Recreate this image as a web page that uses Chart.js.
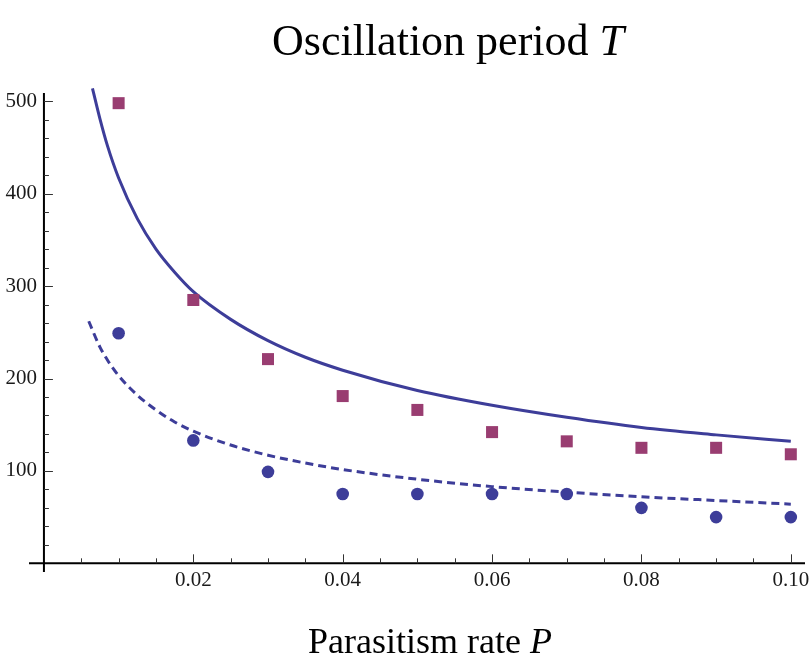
<!DOCTYPE html>
<html>
<head>
<meta charset="utf-8">
<script src="https://cdn.jsdelivr.net/npm/chart.js@4.4.0/dist/chart.umd.min.js"></script>
<style>
  html, body { margin: 0; padding: 0; background: #fff; }
  #wrap { width: 811px; height: 662px; }
</style>
</head>
<body>
<div id="wrap"><canvas id="chart" width="811" height="662"></canvas></div>
<script>
const rates = [0.01, 0.02, 0.03, 0.04, 0.05, 0.06, 0.07, 0.08, 0.09, 0.10];
const squareT = [498, 285, 221, 181, 166, 142, 132, 125, 125, 118];
const circleT = [249, 133, 99, 75, 75, 75, 75, 60, 50, 50];

// 이론 곡선 (그림에서 읽은 점)
const solidP = [0.0065, 0.0075, 0.0085, 0.01, 0.0125, 0.015, 0.0175, 0.02, 0.025, 0.03, 0.035, 0.04, 0.05, 0.06, 0.07, 0.08, 0.09, 0.10];
const solidT = [514, 481, 452, 417, 373, 340, 315, 294, 264, 241, 223, 209, 187, 171, 158, 147, 139, 132];
const dashedP = [0.006, 0.0075, 0.0085, 0.01, 0.0125, 0.015, 0.0175, 0.02, 0.025, 0.03, 0.035, 0.04, 0.05, 0.06, 0.07, 0.08, 0.09, 0.10];
const dashedT = [262, 234, 220, 203, 182, 166, 153, 143, 128, 117, 108.5, 101.5, 91, 83, 77, 72, 68, 64];

// 눈금
const xMajor = [0.02, 0.04, 0.06, 0.08, 0.10];
const xTickLabels = ['0.02', '0.04', '0.06', '0.08', '0.10'];
const yMajor = [100, 200, 300, 400, 500];
const yTickLabels = ['100', '200', '300', '400', '500'];

const blue = '#3d3d99';
const purple = '#993d71';
const serif = '"Liberation Serif", "DejaVu Serif", serif';

const toXY = (xs, ys) => xs.map((x, i) => ({ x: x, y: ys[i] }));

// 축을 원점에 그리는 플러그인
const axesPlugin = {
    id: 'originAxes',
    afterDatasetsDraw(chart) {
        const ctx = chart.ctx;
        const xs = chart.scales.x, ys = chart.scales.y;
        const area = chart.chartArea;
        const x0 = xs.getPixelForValue(0);
        const y0 = ys.getPixelForValue(0);
        ctx.save();
        ctx.strokeStyle = '#000';
        ctx.lineWidth = 2;
        ctx.beginPath();
        ctx.moveTo(area.left, y0); ctx.lineTo(area.right, y0);
        ctx.moveTo(x0, area.top); ctx.lineTo(x0, area.bottom);
        ctx.stroke();

        // y 눈금
        ctx.lineWidth = 1;
        ctx.strokeStyle = '#333';
        for (let v = 20; v <= 500; v += 20) {
            const py = Math.round(ys.getPixelForValue(v)) + 0.5;
            const len = v % 100 === 0 ? 9 : 5;
            ctx.beginPath(); ctx.moveTo(x0, py); ctx.lineTo(x0 + len, py); ctx.stroke();
        }
        // x 눈금
        for (let i = 1; i <= 20; i++) {
            const v = i * 0.005;
            const px = Math.round(xs.getPixelForValue(v)) + 0.5;
            const len = i % 4 === 0 ? 9 : 5;
            ctx.beginPath(); ctx.moveTo(px, y0); ctx.lineTo(px, y0 - len); ctx.stroke();
        }

        ctx.fillStyle = '#1a1a1a';
        ctx.font = '21px ' + serif;
        ctx.textAlign = 'right';
        ctx.textBaseline = 'middle';
        yMajor.forEach((v, i) => ctx.fillText(yTickLabels[i], x0 - 7, ys.getPixelForValue(v)));
        ctx.textAlign = 'center';
        ctx.textBaseline = 'alphabetic';
        xMajor.forEach((v, i) => ctx.fillText(xTickLabels[i], xs.getPixelForValue(v), y0 + 23));

        // 제목과 축 이름
        drawMixed(ctx, [['Oscillation period ', ''], ['T', 'italic ']], 44, 448, 55);
        drawMixed(ctx, [['Parasitism rate ', ''], ['P', 'italic ']], 36, 430, 653);
        ctx.restore();
    }
};

function drawMixed(ctx, parts, size, cx, baseline) {
    ctx.fillStyle = '#000';
    ctx.textBaseline = 'alphabetic';
    ctx.textAlign = 'left';
    let total = 0;
    parts.forEach(p => { ctx.font = p[1] + size + 'px ' + serif; total += ctx.measureText(p[0]).width; });
    let x = cx - total / 2;
    parts.forEach(p => {
        ctx.font = p[1] + size + 'px ' + serif;
        ctx.fillText(p[0], x, baseline);
        x += ctx.measureText(p[0]).width;
    });
}

new Chart(document.getElementById('chart'), {
    type: 'scatter',
    data: {
        datasets: [
            { data: toXY(rates, squareT), pointStyle: 'rect', pointRadius: 8.5, backgroundColor: purple, borderWidth: 0 },
            { data: toXY(rates, circleT), pointStyle: 'circle', pointRadius: 6.3, backgroundColor: blue, borderWidth: 0 },
            { data: toXY(solidP, solidT), showLine: true, pointRadius: 0, borderColor: blue, borderWidth: 3, cubicInterpolationMode: 'monotone', clip: false },
            { data: toXY(dashedP, dashedT), showLine: true, pointRadius: 0, borderColor: blue, borderWidth: 3, borderDash: [8, 5], cubicInterpolationMode: 'monotone', clip: false }
        ]
    },
    options: {
        responsive: false,
        animation: false,
        layout: { autoPadding: false, padding: { left: 29, right: 6, top: 93, bottom: 90 } },
        plugins: { legend: { display: false }, tooltip: { enabled: false }, title: { display: false } },
        scales: {
            x: { type: 'linear', min: -0.002, max: 0.1019, display: false },
            y: { type: 'linear', min: -9.4, max: 509, display: false }
        }
    },
    plugins: [axesPlugin]
});
</script>
</body>
</html>
